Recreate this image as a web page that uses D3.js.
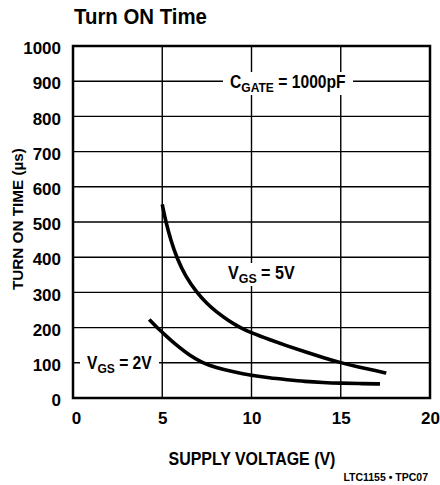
<!DOCTYPE html>
<html>
<head>
<meta charset="utf-8">
<script src="https://cdn.jsdelivr.net/npm/d3@7"></script>
<style>
  body { margin: 0; background: #fff; }
  text { font-family: "Liberation Sans", Arial, sans-serif; font-weight: bold; fill: #000; }
</style>
</head>
<body>
<script>
// Chart data
const xTicks = [0, 5, 10, 15, 20];
const yTicks = [0, 100, 200, 300, 400, 500, 600, 700, 800, 900, 1000];

// supply voltage (V) / turn on time (us)
const vgs5X = [5.0, 5.2, 5.5, 5.8, 6.3, 6.93, 7.5, 8.0, 8.7, 9.36, 10.0, 11.0, 12.0, 13.0, 14.0, 15.0, 16.0, 17.0, 17.55];
const vgs5Y = [550, 500, 445, 400, 345, 300, 268, 246, 220, 200, 185, 166, 148, 131, 115, 100, 88, 77, 71];
const vgs2X = [4.27, 4.69, 5.06, 5.5, 6.0, 6.5, 7.2, 8.0, 9.0, 10.0, 11.0, 12.0, 13.0, 14.0, 15.0, 16.0, 17.2];
const vgs2Y = [223, 201, 184, 163, 142, 122, 101, 86, 74, 64, 57, 52, 47, 44, 42, 41, 40];

const width = 440;
const height = 485;
const margin = { top: 46, right: 10, bottom: 87, left: 73 };
const plotW = width - margin.left - margin.right;
const plotH = height - margin.top - margin.bottom;

const svg = d3.select("body").append("svg")
  .attr("width", width)
  .attr("height", height);

const x = d3.scaleLinear().domain([0, 20]).range([0, plotW]);
const y = d3.scaleLinear().domain([0, 1000]).range([plotH, 0]);

const g = svg.append("g").attr("transform", `translate(${margin.left},${margin.top})`);

// grid lines
const grid = g.append("g");
grid.selectAll("line.h")
  .data(yTicks)
  .join("line")
  .attr("class", "h")
  .attr("x1", 0).attr("x2", plotW)
  .attr("y1", d => y(d)).attr("y2", d => y(d))
  .attr("stroke", "#000").attr("stroke-width", 1.4);
grid.selectAll("line.v")
  .data(xTicks)
  .join("line")
  .attr("class", "v")
  .attr("x1", d => x(d)).attr("x2", d => x(d))
  .attr("y1", 0).attr("y2", plotH)
  .attr("stroke", "#000").attr("stroke-width", 1.4);

// tick labels
const yAxis = g.append("g")
  .call(d3.axisLeft(y).tickValues(yTicks).tickFormat(d3.format("d")).tickSize(0).tickPadding(12));
yAxis.select(".domain").remove();
yAxis.selectAll("text")
  .style("font-size", "17px")
  .attr("dy", "0.45em");

const xAxis = g.append("g")
  .attr("transform", `translate(0,${plotH})`)
  .call(d3.axisBottom(x).tickValues(xTicks).tickFormat(d3.format("d")).tickSize(0).tickPadding(14));
xAxis.select(".domain").remove();
xAxis.selectAll("text").style("font-size", "17px");
xAxis.selectAll(".tick").filter(d => d === 0).select("text").attr("x", 3);

// squeeze a text horizontally to a given width (the original face is condensed)
function squeeze(sel, px, py, w, anchor) {
  const nat = sel.node().getBBox().width;
  const s = w / nat;
  const dx = anchor === "middle" ? -w / 2 : 0;
  sel.attr("transform", `translate(${px + dx},${py}) scale(${s},1)`);
}

// annotations with white boxes that break the grid
const notes = [
  { main: "C", sub: "GATE", rest: " = 1000pF", x: 230, y: 88, w: 116 },
  { main: "V", sub: "GS", rest: " = 5V", x: 228, y: 279, w: 67 },
  { main: "V", sub: "GS", rest: " = 2V", x: 87, y: 369, w: 65 },
];

notes.forEach(n => {
  const box = svg.append("rect").attr("fill", "#fff");
  const t = svg.append("text").style("font-size", "17.5px");
  t.append("tspan").text(n.main);
  t.append("tspan").attr("dy", 4).style("font-size", "13.5px").text(n.sub);
  t.append("tspan").attr("dy", -4).text(n.rest);
  squeeze(t, n.x, n.y, n.w);
  box.attr("x", n.x - 7).attr("y", n.y - 16)
    .attr("width", n.w + 14).attr("height", 23);
});

// curves
const line = d3.line()
  .x(d => margin.left + x(d[0]))
  .y(d => margin.top + y(d[1]))
  .curve(d3.curveBasis);

[[vgs5X, vgs5Y], [vgs2X, vgs2Y]].forEach(([xs, ys]) => {
  svg.append("path")
    .datum(xs.map((v, i) => [v, ys[i]]))
    .attr("d", line)
    .attr("fill", "none")
    .attr("stroke", "#000")
    .attr("stroke-width", 3.6);
});

// plot frame
g.append("rect")
  .attr("width", plotW).attr("height", plotH)
  .attr("fill", "none")
  .attr("stroke", "#000")
  .attr("stroke-width", 2.5);

// titles
const title = svg.append("text").style("font-size", "23px").text("Turn ON Time");
squeeze(title, 74, 24, 133);

const xTitle = svg.append("text").style("font-size", "18.5px").text("SUPPLY VOLTAGE (V)");
squeeze(xTitle, 252, 465, 167, "middle");

const yTitle = svg.append("text").style("font-size", "15.5px").text("TURN ON TIME (µs)");
{
  const nat = yTitle.node().getBBox().width;
  const s = 142 / nat;
  yTitle.attr("transform", `translate(23,219) rotate(-90) translate(-71,0) scale(${s},1)`);
}

svg.append("text")
  .attr("x", 428).attr("y", 481)
  .attr("text-anchor", "end")
  .style("font-size", "10.5px")
  .text("LTC1155 • TPC07");
</script>
</body>
</html>
